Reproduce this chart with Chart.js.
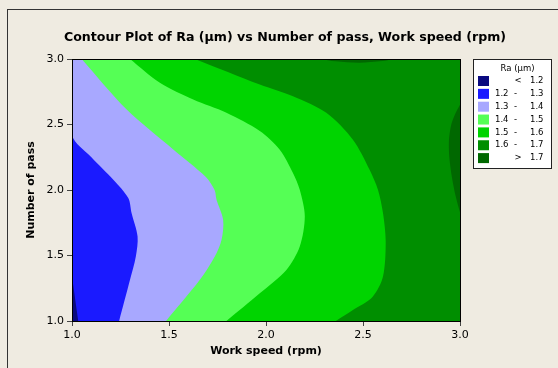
<!DOCTYPE html>
<html>
<head>
<meta charset="utf-8">
<script src="https://cdn.jsdelivr.net/npm/chart.js@4.4.1/dist/chart.umd.min.js"></script>
<style>
  html, body { margin: 0; padding: 0; background: #EFEBE1; }
  canvas { display: block; }
</style>
</head>
<body>
<canvas id="contour" width="558" height="368"></canvas>
<script>
// Ra (µm) contour levels and the colour of each band, lowest first
const levels = [1.2, 1.3, 1.4, 1.5, 1.6, 1.7];
const bandColors = ['#0A0A80', '#1A1AFF', '#A8A8FF', '#55FF55', '#00D400', '#008E00', '#006800'];

const xTicks = [1.0, 1.5, 2.0, 2.5, 3.0];
const yTicks = [1.0, 1.5, 2.0, 2.5, 3.0];

const chartTitle = 'Contour Plot of Ra (µm) vs Number of pass, Work speed (rpm)';

// contour lines: work speed (x) at number of pass (y)
const line12y = [1.0, 1.34, 3.0];
const line12x = [1.032, 1.0, 1.0];

const line13y = [1.0, 1.314, 1.492, 1.645, 1.824, 1.938, 2.078, 2.25, 2.42, 3.0];
const line13x = [1.243, 1.299, 1.329, 1.338, 1.307, 1.29, 1.213, 1.10, 1.0, 1.0];

const line14y = [1.0, 1.314, 1.492, 1.62, 1.773, 1.925, 2.0, 2.1, 2.31, 2.614, 3.0];
const line14x = [1.485, 1.659, 1.736, 1.771, 1.779, 1.745, 1.735, 1.69, 1.522, 1.282, 1.05];

const line15y = [1.0, 1.212, 1.39, 1.568, 1.80, 2.002, 2.13, 2.308, 2.45, 2.589, 2.69, 2.818, 3.0];
const line15x = [1.796, 1.968, 2.105, 2.174, 2.2, 2.174, 2.139, 2.071, 1.968, 1.796, 1.625, 1.453, 1.299];

const line16y = [1.0, 1.084, 1.186, 1.339, 1.607, 1.824, 2.002, 2.155, 2.384, 2.589, 2.716, 2.805, 3.0];
const line16x = [2.36, 2.448, 2.55, 2.603, 2.617, 2.603, 2.577, 2.534, 2.448, 2.311, 2.139, 1.968, 1.633];

// small pockets above 1.7 on the right and top edges
const pocketRightY = [1.83, 1.95, 2.1, 2.25, 2.38, 2.5, 2.58, 2.65];
const pocketRightX = [3.0, 2.978, 2.958, 2.945, 2.943, 2.955, 2.975, 3.0];
const pocketTopX = [2.277, 2.36, 2.48, 2.6, 2.654];
const pocketTopY = [3.0, 2.982, 2.972, 2.984, 3.0];

const FONT = 'DejaVu Sans';
const xMax = xTicks[xTicks.length - 1];

function pts(xs, ys) {
  return xs.map((x, i) => ({ x: x, y: ys[i] }));
}

// each line fills to the right edge with the colour of the band above it
const bands = [
  { data: pts(line12x, line12y), color: bandColors[1], fill: { value: xMax }, tension: 0 },
  { data: pts(line13x, line13y), color: bandColors[2], fill: { value: xMax }, tension: 0.3 },
  { data: pts(line14x, line14y), color: bandColors[3], fill: { value: xMax }, tension: 0.3 },
  { data: pts(line15x, line15y), color: bandColors[4], fill: { value: xMax }, tension: 0.3 },
  { data: pts(line16x, line16y), color: bandColors[5], fill: { value: xMax }, tension: 0.3 },
  { data: pts(pocketRightX, pocketRightY), color: bandColors[6], fill: 'shape', tension: 0.3 },
  { data: pts(pocketTopX, pocketTopY), color: bandColors[6], fill: 'shape', tension: 0.3 }
];

const datasets = bands.map((b, i) => ({
  data: b.data,
  backgroundColor: b.color,
  borderWidth: 0,
  pointRadius: 0,
  fill: b.fill,
  tension: b.tension,
  order: bands.length - i
}));

const legendRows = bandColors.map((c, i) => {
  if (i === 0) return { color: c, lo: '', mid: '<', hi: levels[0].toFixed(1) };
  if (i === levels.length) return { color: c, lo: '', mid: '>', hi: levels[i - 1].toFixed(1) };
  return { color: c, lo: levels[i - 1].toFixed(1), mid: '-', hi: levels[i].toFixed(1) };
});

const framePlugin = {
  id: 'frame',
  beforeDraw(chart) {
    const ctx = chart.ctx;
    ctx.save();
    ctx.fillStyle = '#EFEBE1';
    ctx.fillRect(0, 0, chart.width, chart.height);
    ctx.strokeStyle = '#333';
    ctx.lineWidth = 1;
    ctx.strokeRect(7.5, 9.5, chart.width, chart.height);
    ctx.restore();
  },
  beforeDatasetsDraw(chart) {
    const { ctx, chartArea: a } = chart;
    ctx.save();
    ctx.fillStyle = bandColors[0];
    ctx.fillRect(a.left, a.top, a.right - a.left, a.bottom - a.top);
    ctx.restore();
  },
  afterDatasetsDraw(chart) {
    const { ctx, chartArea: a } = chart;
    ctx.save();
    ctx.strokeStyle = '#000';
    ctx.lineWidth = 1;
    ctx.strokeRect(a.left + 0.5, a.top + 0.5, a.right - a.left, a.bottom - a.top);
    ctx.restore();
  },
  afterDraw(chart) {
    const { ctx, chartArea: a } = chart;
    ctx.save();
    // title, centred on the whole figure frame
    ctx.fillStyle = '#000';
    ctx.font = 'bold 12.6px "' + FONT + '"';
    ctx.textAlign = 'center';
    ctx.textBaseline = 'middle';
    ctx.fillText(chartTitle, 285, 37.5);

    const left = a.right + 13.5, top = a.top + 0.5, w = 78, h = 109;
    ctx.fillStyle = '#fff';
    ctx.fillRect(left, top, w, h);
    ctx.strokeStyle = '#222';
    ctx.lineWidth = 1;
    ctx.strokeRect(left, top, w, h);

    ctx.fillStyle = '#000';
    ctx.font = '8.5px "' + FONT + '"';
    ctx.textBaseline = 'middle';
    ctx.textAlign = 'center';
    ctx.fillText('Ra (µm)', left + 44, top + 9);

    legendRows.forEach((r, i) => {
      const cy = top + 21.5 + i * 12.85;
      ctx.fillStyle = r.color;
      ctx.fillRect(left + 4.5, cy - 5, 11, 10);
      ctx.fillStyle = '#000';
      ctx.textAlign = 'right';
      if (r.lo) ctx.fillText(r.lo, left + 35, cy);
      ctx.fillText(r.hi, left + 70, cy);
      ctx.textAlign = 'center';
      ctx.fillText(r.mid, left + (r.lo ? 42 : 44.5), cy);
    });
    ctx.restore();
  }
};

new Chart(document.getElementById('contour'), {
  type: 'line',
  data: { datasets: datasets },
  plugins: [framePlugin],
  options: {
    indexAxis: 'y',
    responsive: false,
    animation: false,
    devicePixelRatio: 1,
    layout: { padding: { left: 0, right: 98, top: 59, bottom: 0 } },
    plugins: {
      legend: { display: false },
      tooltip: { enabled: false },
      title: { display: false }
    },
    scales: {
      x: {
        type: 'linear',
        position: 'bottom',
        min: 1, max: 3,
        afterBuildTicks: s => { s.ticks = xTicks.map(v => ({ value: v })); },
        afterFit: s => { s.height = 47; },
        grid: { drawOnChartArea: false, tickLength: 5, color: '#444' },
        border: { color: '#000' },
        ticks: {
          callback: v => v.toFixed(1),
          color: '#000',
          maxRotation: 0,
          padding: 3,
          font: { family: FONT, size: 11 }
        },
        title: {
          display: true,
          text: 'Work speed (rpm)',
          color: '#000',
          font: { family: FONT, size: 11, weight: 'bold' },
          padding: { top: 0, bottom: 10.4 }
        }
      },
      y: {
        type: 'linear',
        position: 'left',
        min: 1, max: 3,
        afterBuildTicks: s => { s.ticks = yTicks.map(v => ({ value: v })); },
        afterFit: s => { s.width = 72; },
        grid: { drawOnChartArea: false, tickLength: 5, color: '#444' },
        border: { color: '#000' },
        ticks: {
          callback: v => v.toFixed(1),
          color: '#000',
          padding: 3,
          font: { family: FONT, size: 11 }
        },
        title: {
          display: true,
          text: 'Number of pass',
          color: '#000',
          font: { family: FONT, size: 11, weight: 'bold' },
          padding: { top: 25, bottom: 0 }
        }
      }
    }
  }
});
</script>
</body>
</html>
